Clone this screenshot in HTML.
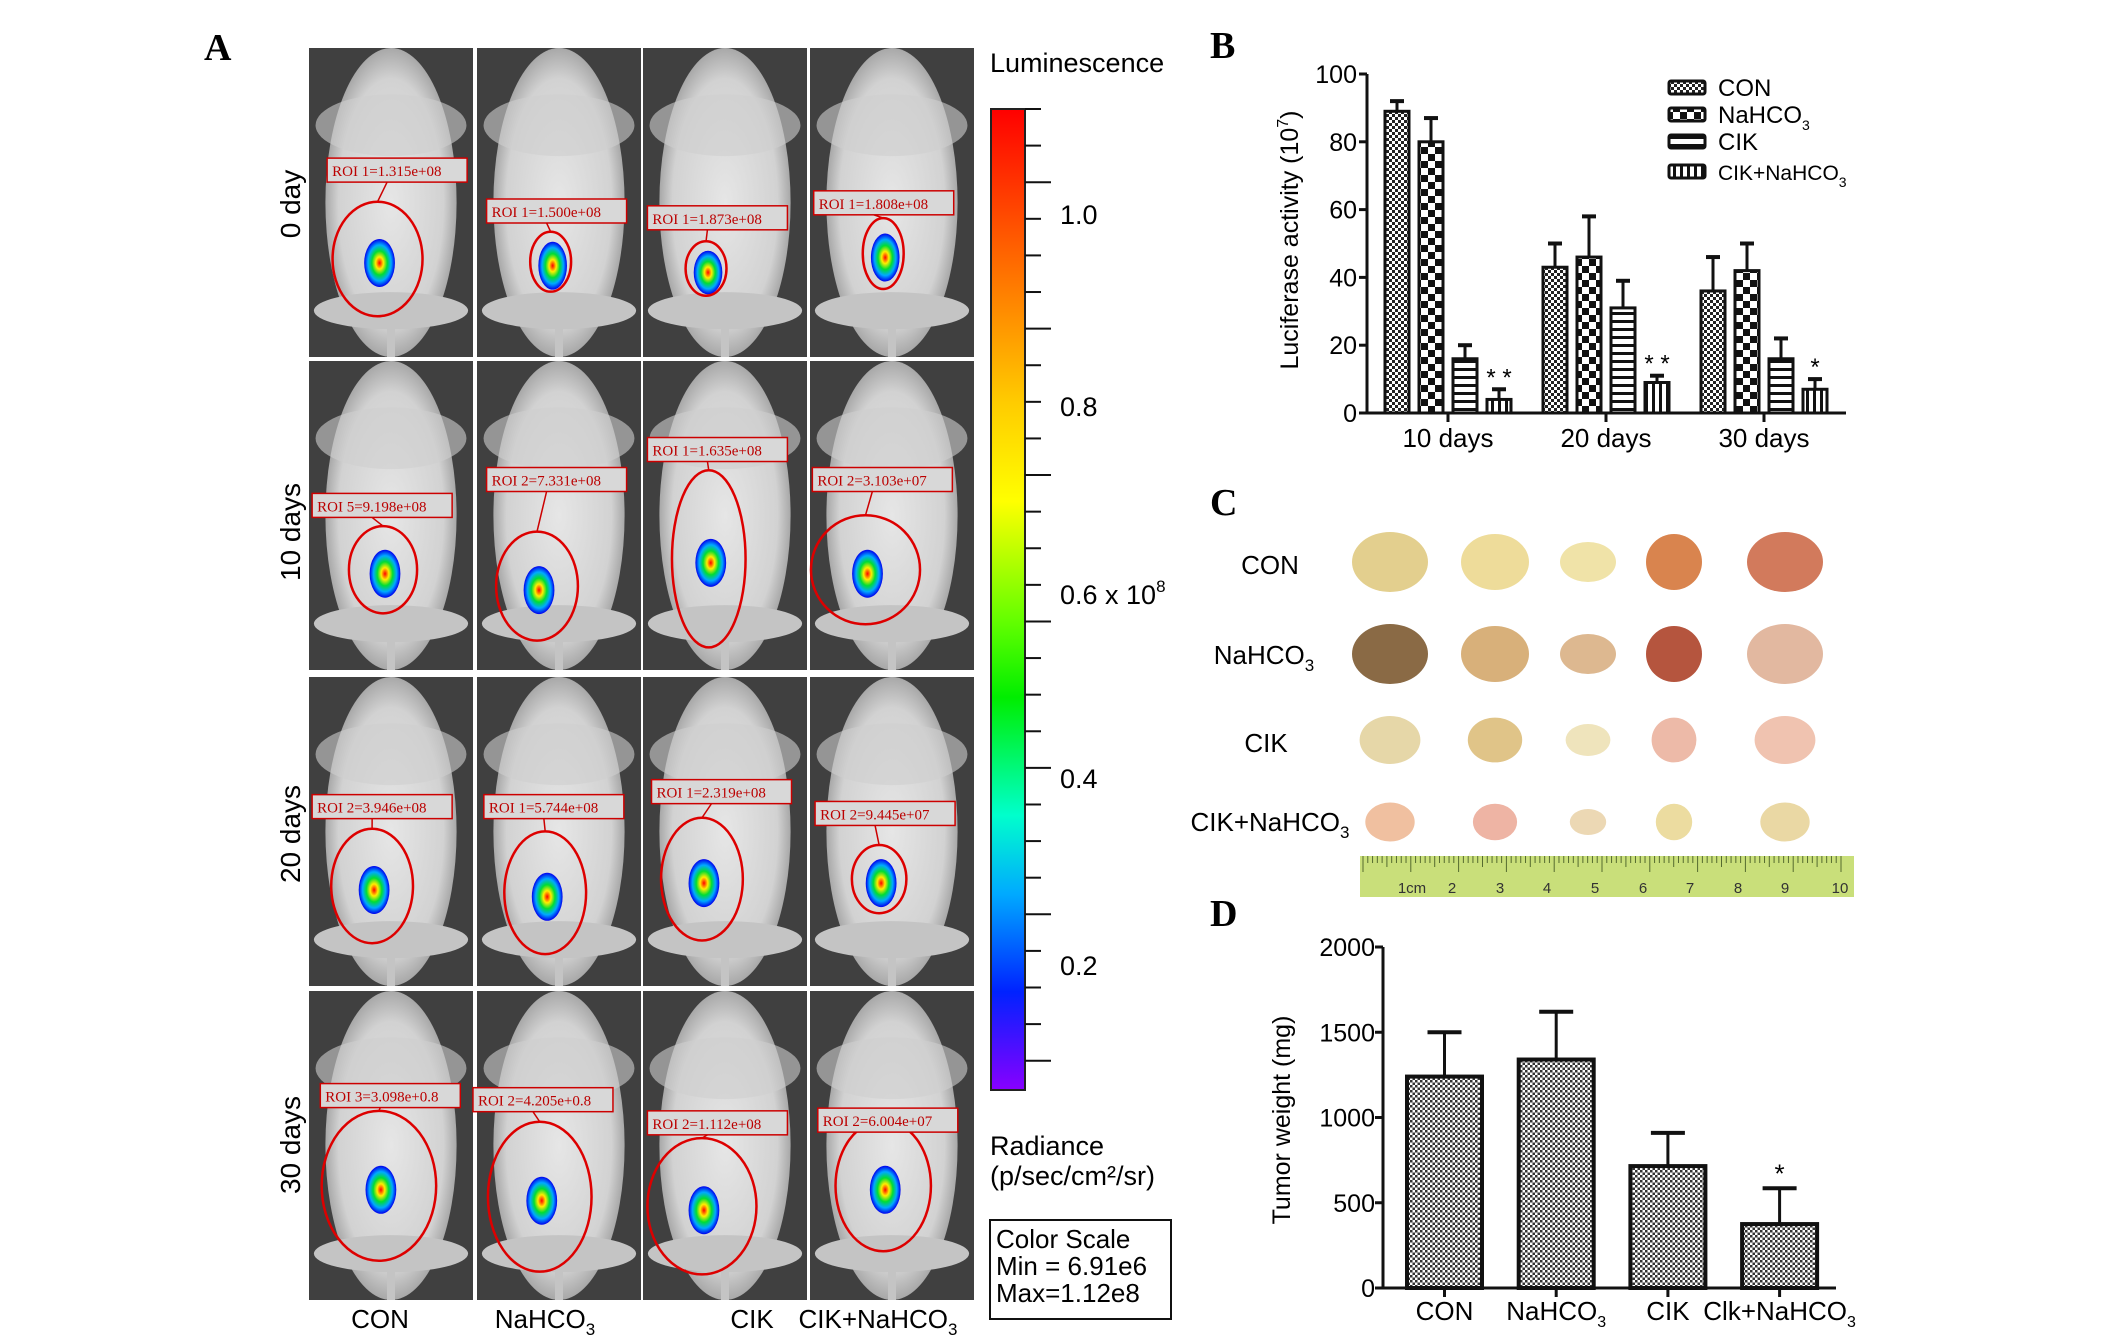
<!DOCTYPE html>
<html><head><meta charset="utf-8"><style>
body{margin:0;background:#fff;}
svg{display:block;font-family:"Liberation Sans",sans-serif;}
</style></head><body>
<svg id="fig" width="2126" height="1340" viewBox="0 0 2126 1340" xmlns="http://www.w3.org/2000/svg">
<defs>
<pattern id="pCon" width="6" height="6" patternUnits="userSpaceOnUse"><rect width="6" height="6" fill="#fff"/><rect width="3" height="3" fill="#222"/><rect x="3" y="3" width="3" height="3" fill="#222"/></pattern>
<pattern id="pNa" width="14" height="14" patternUnits="userSpaceOnUse"><rect width="14" height="14" fill="#fff"/><rect width="7" height="7" fill="#111"/><rect x="7" y="7" width="7" height="7" fill="#111"/></pattern>
<pattern id="pCik" width="8" height="8" patternUnits="userSpaceOnUse"><rect width="8" height="8" fill="#fff"/><rect y="0" width="8" height="3" fill="#111"/></pattern>
<pattern id="pComb" width="7" height="7" patternUnits="userSpaceOnUse"><rect width="7" height="7" fill="#fff"/><rect x="0" width="3" height="7" fill="#111"/></pattern>
<pattern id="pD" width="5" height="5" patternUnits="userSpaceOnUse"><rect width="5" height="5" fill="#fff"/><rect width="2.5" height="2.5" fill="#333"/><rect x="2.5" y="2.5" width="2.5" height="2.5" fill="#333"/></pattern>
<linearGradient id="cbar" x1="0" y1="0" x2="0" y2="1">
<stop offset="0" stop-color="#ff0000"/><stop offset="0.15" stop-color="#ff6600"/><stop offset="0.3" stop-color="#ffcc00"/><stop offset="0.4" stop-color="#ffff00"/><stop offset="0.52" stop-color="#66ff00"/><stop offset="0.6" stop-color="#00ee00"/><stop offset="0.72" stop-color="#00ffcc"/><stop offset="0.8" stop-color="#00aaff"/><stop offset="0.9" stop-color="#0022ff"/><stop offset="1" stop-color="#8800ff"/></linearGradient>
<radialGradient id="blob"><stop offset="0" stop-color="#ff0000"/><stop offset="0.25" stop-color="#ffee00"/><stop offset="0.5" stop-color="#00dd33"/><stop offset="0.75" stop-color="#00aaff"/><stop offset="1" stop-color="#0000ee"/></radialGradient>
<radialGradient id="body"><stop offset="0" stop-color="#e6e6e6"/><stop offset="0.8" stop-color="#d2d2d2"/><stop offset="1" stop-color="#a8a8a8"/></radialGradient>
</defs>

<!-- Panel A -->
<text x="204" y="60" font-family="Liberation Serif,serif" font-weight="bold" font-size="38">A</text>
<g id="grid"></g>
<g font-size="28">
<text transform="translate(300,204) rotate(-90)" text-anchor="middle">0 day</text>
<text transform="translate(300,532) rotate(-90)" text-anchor="middle">10 days</text>
<text transform="translate(300,834) rotate(-90)" text-anchor="middle">20 days</text>
<text transform="translate(300,1145) rotate(-90)" text-anchor="middle">30 days</text>
</g>
<g font-size="26" text-anchor="middle">
<text x="380" y="1328">CON</text>
<text x="545" y="1328">NaHCO<tspan font-size="17" dy="7">3</tspan></text>
<text x="752" y="1328">CIK</text>
<text x="878" y="1328">CIK+NaHCO<tspan font-size="17" dy="7">3</tspan></text>
</g>
<text x="990" y="72" font-size="27">Luminescence</text>
<rect x="991" y="109" width="34" height="981" fill="url(#cbar)" stroke="#222" stroke-width="2"/>
<g id="cticks" stroke="#111" stroke-width="2"></g>
<g font-size="27">
<text x="1060" y="224">1.0</text><text x="1060" y="416">0.8</text><text x="1060" y="604">0.6 x 10<tspan font-size="17" dy="-12">8</tspan></text><text x="1060" y="788">0.4</text><text x="1060" y="975">0.2</text>
</g>
<text x="990" y="1155" font-size="27">Radiance</text>
<text x="990" y="1185" font-size="27">(p/sec/cm²/sr)</text>
<rect x="990" y="1220" width="181" height="99" fill="none" stroke="#111" stroke-width="2"/>
<g font-size="26"><text x="996" y="1248">Color Scale</text><text x="996" y="1275">Min = 6.91e6</text><text x="996" y="1302">Max=1.12e8</text></g>

<!-- Panel B -->
<text x="1210" y="58" font-family="Liberation Serif,serif" font-weight="bold" font-size="38">B</text>
<g id="chartB"></g>

<!-- Panel C -->
<text x="1210" y="515" font-family="Liberation Serif,serif" font-weight="bold" font-size="38">C</text>
<g font-size="26" text-anchor="middle">
<text x="1270" y="574">CON</text>
<text x="1264" y="664">NaHCO<tspan font-size="17" dy="7">3</tspan></text>
<text x="1266" y="752">CIK</text>
<text x="1270" y="831">CIK+NaHCO<tspan font-size="17" dy="7">3</tspan></text>
</g>
<g id="tumors"></g>
<g>
<rect x="1360" y="856" width="494" height="41" fill="#c9df7a"/>
<g id="ruler"></g>
</g>

<!-- Panel D -->
<text x="1210" y="926" font-family="Liberation Serif,serif" font-weight="bold" font-size="38">D</text>
<g id="chartD"></g>
</svg>
<script>
// ---- Chart B data ----
const bGroups = ["10 days", "20 days", "30 days"];
const bSeries = ["CON", "NaHCO3", "CIK", "CIK+NaHCO3"];
const bCon = [89, 43, 36];
const bNa = [80, 46, 42];
const bCik = [16, 31, 16];
const bComb = [4, 9, 7];
const bConErr = [3, 7, 10];
const bNaErr = [7, 12, 8];
const bCikErr = [4, 8, 6];
const bCombErr = [3, 2, 3];
const bStars = ["", "", "", "* *", "", "", "", "* *", "", "", "", "*"];
const bTicks = [0, 20, 40, 60, 80, 100];
// ---- Chart D data ----
const dCats = ["CON", "NaHCO3", "CIK", "Clk+NaHCO3"];
const dVals = [1240, 1340, 715, 375];
const dErr = [260, 280, 195, 210];
const dTicks = [0, 500, 1000, 1500, 2000];

const NS = "http://www.w3.org/2000/svg";
function mk(tag, attrs, parent, txt) {
  const e = document.createElementNS(NS, tag);
  for (const k in attrs) e.setAttribute(k, attrs[k]);
  if (txt !== undefined) e.textContent = txt;
  parent.appendChild(e);
  return e;
}

// ---- Chart B ----
(function () {
  const g = document.getElementById("chartB");
  const y0 = 413, y1 = 74, ax = 1367, axEnd = 1846;
  const yS = v => y0 - (v / 100) * (y0 - y1);
  const xBar = (gi, si) => 1385 + gi * 158 + si * 34;
  const bw = 24;
  const vals = [bCon, bNa, bCik, bComb], errs = [bConErr, bNaErr, bCikErr, bCombErr];
  const fills = ["url(#pCon)", "url(#pNa)", "url(#pCik)", "url(#pComb)"];
  mk("line", { x1: ax, y1: y1, x2: ax, y2: y0, stroke: "#111", "stroke-width": 3 }, g);
  mk("line", { x1: ax, y1: y0, x2: axEnd, y2: y0, stroke: "#111", "stroke-width": 3 }, g);
  bTicks.forEach(t => {
    mk("line", { x1: ax - 8, y1: yS(t), x2: ax, y2: yS(t), stroke: "#111", "stroke-width": 3 }, g);
    const tl = mk("text", { x: ax - 10, y: yS(t) + 9, "text-anchor": "end", "font-size": 25 }, g, String(t));
    
    
  });
  const title = mk("text", { transform: "translate(1298,240) rotate(-90)", "text-anchor": "middle", "font-size": 25 }, g, "Luciferase activity (10");
  mk("tspan", { "font-size": 16, dy: -10 }, title, "7");
  mk("tspan", { dy: 10 }, title, ")");
  
  
  bGroups.forEach((gn, gi) => {
    const cx = xBar(gi, 0) + (3 * 34 + bw) / 2;
    mk("line", { x1: cx, y1: y0, x2: cx, y2: y0 + 9, stroke: "#111", "stroke-width": 3 }, g);
    const lbl = mk("text", { x: cx, y: 447, "text-anchor": "middle", "font-size": 26 }, g, gn);
    
    
    for (let si = 0; si < 4; si++) {
      const v = vals[si][gi], e = errs[si][gi], x = xBar(gi, si);
      const cxb = x + bw / 2;
      mk("line", { x1: cxb, y1: yS(v), x2: cxb, y2: yS(v + e), stroke: "#111", "stroke-width": 3 }, g);
      mk("line", { x1: cxb - 7, y1: yS(v + e), x2: cxb + 7, y2: yS(v + e), stroke: "#111", "stroke-width": 4 }, g);
      const r = mk("rect", { x: x, y: yS(v), width: bw, height: y0 - yS(v), fill: fills[si], stroke: "#111", "stroke-width": 3 }, g);
      
      
      const st = bStars[gi * 4 + si];
      if (st) mk("text", { x: cxb, y: yS(v + e) - 4, "text-anchor": "middle", "font-size": 24 }, g, st);
    }
  });
  // legend
  const ly = [88, 115, 142, 172];
  bSeries.forEach((s, i) => {
    const sw = mk("rect", { x: 1669, y: ly[i] - 7, width: 36, height: 13, fill: fills[i], stroke: "#111", "stroke-width": 3, rx: 2 }, g);
    
    
    const base = s.replace("3", "");
    const t = mk("text", { x: 1718, y: ly[i] + 8, "font-size": i === 3 ? 21 : 24 }, g, base);
    if (s.endsWith("3")) mk("tspan", { "font-size": 14, dy: 7 }, t, "3");
    
    
  });
})();

// ---- Chart D ----
(function () {
  const g = document.getElementById("chartD");
  const y0 = 1288, y1 = 947, ax = 1383, axEnd = 1836;
  const yS = v => y0 - (v / 2000) * (y0 - y1);
  const bw = 75, xB = i => 1407 + i * 111.7;
  mk("line", { x1: ax, y1: y1, x2: ax, y2: y0, stroke: "#111", "stroke-width": 3 }, g);
  mk("line", { x1: ax, y1: y0, x2: axEnd, y2: y0, stroke: "#111", "stroke-width": 3 }, g);
  dTicks.forEach(t => {
    mk("line", { x1: ax - 8, y1: yS(t), x2: ax, y2: yS(t), stroke: "#111", "stroke-width": 3 }, g);
    const tl = mk("text", { x: ax - 8, y: yS(t) + 9, "text-anchor": "end", "font-size": 25 }, g, String(t));
    
    
  });
  const title = mk("text", { transform: "translate(1290,1120) rotate(-90)", "text-anchor": "middle", "font-size": 25 }, g, "Tumor weight (mg)");
  
  
  dCats.forEach((c, i) => {
    const x = xB(i), cx = x + bw / 2, v = dVals[i], e = dErr[i];
    mk("line", { x1: cx, y1: y0, x2: cx, y2: y0 + 9, stroke: "#111", "stroke-width": 3 }, g);
    mk("line", { x1: cx, y1: yS(v), x2: cx, y2: yS(v + e), stroke: "#111", "stroke-width": 3 }, g);
    mk("line", { x1: cx - 17, y1: yS(v + e), x2: cx + 17, y2: yS(v + e), stroke: "#111", "stroke-width": 4 }, g);
    const r = mk("rect", { x: x, y: yS(v), width: bw, height: y0 - yS(v), fill: "url(#pD)", stroke: "#111", "stroke-width": 4 }, g);
    
    
    const base = c.replace("3", "");
    const t = mk("text", { x: cx, y: 1320, "text-anchor": "middle", "font-size": 26 }, g, base);
    if (c.endsWith("3")) mk("tspan", { "font-size": 16, dy: 7 }, t, "3");
    
    
  });
  mk("text", { x: xB(3) + bw / 2, y: yS(dVals[3] + dErr[3]) - 6, "text-anchor": "middle", "font-size": 26 }, g, "*");
})();

// ---- Panel A grid (decorative images) ----
(function () {
  const g = document.getElementById("grid");
  const colX = [309, 477, 643, 810], rowY = [48, 361, 677, 991], W = 164, H = 309;
  const s = 1.363;
  const labels = [
    ["ROI 1=1.315e+08", 240, 116, 277, 190, 33, 42],
    ["ROI 1=1.500e+08", 357, 146, 404, 192, 15, 22],
    ["ROI 1=1.873e+08", 475, 151, 518, 197, 15, 20],
    ["ROI 1=1.808e+08", 597, 140, 648, 186, 15, 26],
    ["ROI 5=9.198e+08", 229, 362, 281, 418, 25, 32],
    ["ROI 2=7.331e+08", 357, 343, 394, 430, 30, 40],
    ["ROI 1=1.635e+08", 475, 321, 520, 410, 27, 65],
    ["ROI 2=3.103e+07", 596, 343, 635, 418, 40, 40],
    ["ROI 2=3.946e+08", 229, 583, 273, 650, 30, 42],
    ["ROI 1=5.744e+08", 355, 583, 400, 655, 30, 45],
    ["ROI 1=2.319e+08", 478, 572, 515, 645, 30, 45],
    ["ROI 2=9.445e+07", 598, 588, 645, 645, 20, 25],
    ["ROI 3=3.098e+0.8", 235, 795, 278, 870, 42, 55],
    ["ROI 2=4.205e+0.8", 347, 798, 396, 878, 38, 55],
    ["ROI 2=1.112e+08", 475, 815, 515, 885, 40, 50],
    ["ROI 2=6.004e+07", 600, 813, 648, 870, 35, 48]
  ];
  for (let r = 0; r < 4; r++) for (let c = 0; c < 4; c++) {
    const x = colX[c], y = rowY[r];
    const cell = mk("g", {}, g);
    
    
    mk("rect", { x: x, y: y, width: W, height: H, fill: "#404040" }, cell);
    mk("ellipse", { cx: x + W / 2, cy: y + H * 0.5, rx: W * 0.4, ry: H * 0.5, fill: "url(#body)" }, cell);
    mk("ellipse", { cx: x + W / 2, cy: y + H * 0.25, rx: W * 0.46, ry: H * 0.1, fill: "#cfcfcf", opacity: 0.6 }, cell);
    mk("ellipse", { cx: x + W / 2, cy: y + H * 0.85, rx: W * 0.47, ry: H * 0.06, fill: "#c4c4c4" }, cell);
    mk("rect", { x: x + W / 2 - 4, y: y + H * 0.85, width: 8, height: H * 0.15, fill: "#c4c4c4" }, cell);
    const L = labels[r * 4 + c];
    const lx = L[1] * s, ly = L[2] * s, ccx = L[3] * s, ccy = L[4] * s, rx = L[5] * s, ry = L[6] * s;
    mk("line", { x1: lx + 60, y1: ly + 24, x2: ccx, y2: ccy - ry, stroke: "#c00", "stroke-width": 1.5 }, cell);
    mk("ellipse", { cx: ccx + 2, cy: ccy + 4, rx: Math.min(rx, 22) * 0.7, ry: Math.min(ry, 30) * 0.8, fill: "url(#blob)" }, cell);
    mk("ellipse", { cx: ccx, cy: ccy, rx: rx, ry: ry, fill: "none", stroke: "#d00", "stroke-width": 2.5 }, cell);
    mk("rect", { x: lx, y: ly, width: 140, height: 24, fill: "#d8d8d8", stroke: "#c00", "stroke-width": 1.5 }, cell);
    mk("text", { x: lx + 5, y: ly + 18, "font-size": 15, fill: "#b00", "font-family": "Liberation Serif,serif" }, cell, L[0]);
  }
  const ct = document.getElementById("cticks");
  for (let i = 0; i <= 26; i++) {
    const yy = 109 + i * (981 / 26.8);
    const len = (i % 4 === 2) ? 26 : 16;
    mk("line", { x1: 1025, y1: yy, x2: 1025 + len, y2: yy, stroke: "#111", "stroke-width": 2 }, ct);
  }
})();

// ---- Panel C tumors ----
(function () {
  const g = document.getElementById("tumors");
  const tx = [1390, 1495, 1588, 1674, 1785], ty = [562, 654, 740, 822];
  const cols = [["#e3cf8e", "#eedc9a", "#f0e3a8", "#d9844e", "#d27a5c"],
                ["#8a6a45", "#d8b07a", "#ddb890", "#b5553e", "#e2b8a0"],
                ["#e6d7a8", "#e0c488", "#efe4bc", "#edbaa8", "#f0c3b0"],
                ["#f0c0a0", "#eeb4a4", "#ecd8b4", "#ecdca0", "#ead8a4"]];
  const sz = [[38, 30], [34, 28], [28, 20], [28, 28], [38, 30]];
  for (let r = 0; r < 4; r++) for (let c = 0; c < 5; c++) {
    const sc = r === 3 ? 0.65 : (r === 2 ? 0.8 : 1);
    const e = mk("ellipse", { cx: tx[c], cy: ty[r], rx: sz[c][0] * sc, ry: sz[c][1] * sc, fill: cols[r][c] }, g);
    
    
  }
  const rg = document.getElementById("ruler");
  for (let i = 0; i <= 100; i++) {
    const x = 1363 + i * 4.78;
    mk("line", { x1: x, y1: 856, x2: x, y2: 856 + (i % 10 === 0 ? 16 : (i % 5 === 0 ? 11 : 7)), stroke: "#556b2f", "stroke-width": 1 }, rg);
  }
  const nums = ["1cm", "2", "3", "4", "5", "6", "7", "8", "9", "10"];
  const nx = [1412, 1452, 1500, 1547, 1595, 1643, 1690, 1738, 1785, 1840];
  nums.forEach((n, i) => mk("text", { x: nx[i], y: 893, "text-anchor": "middle", "font-size": 15, fill: "#333" }, rg, n));
})();
</script>
</body></html>
